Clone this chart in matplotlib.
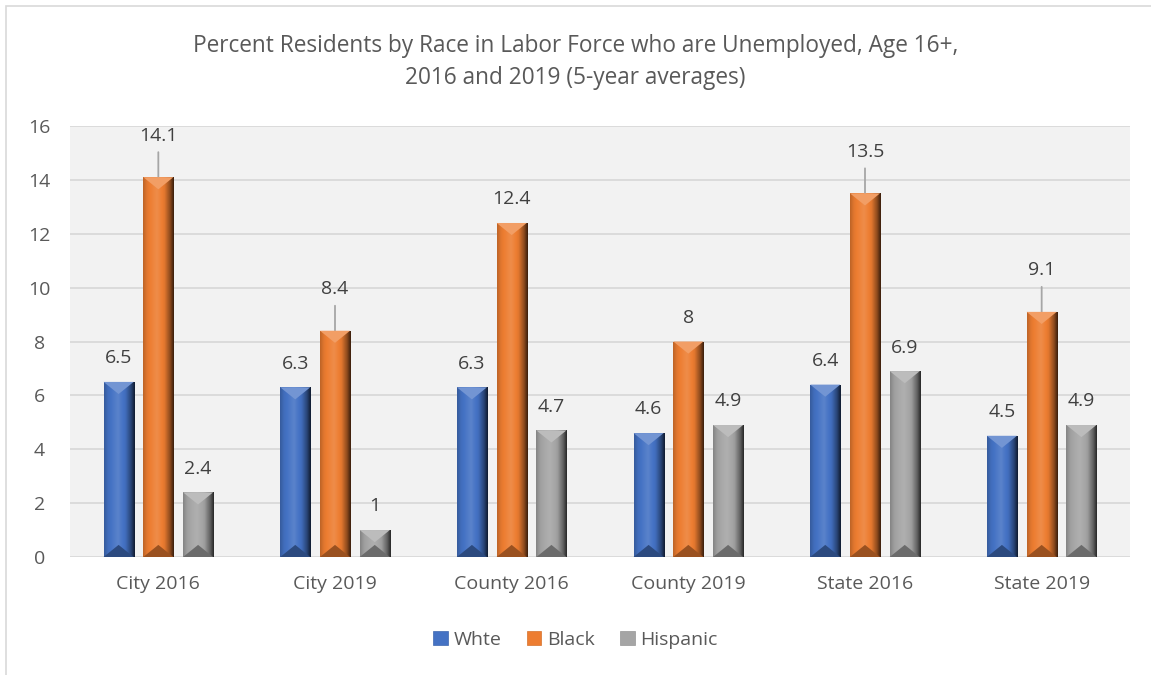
import numpy as np
import matplotlib.pyplot as plt
from matplotlib.patches import Polygon, Rectangle
from matplotlib.colors import to_rgb

# Dữ liệu
categories = ['City 2016', 'City 2019', 'County 2016', 'County 2019', 'State 2016', 'State 2019']
white = [6.5, 6.3, 6.3, 4.6, 6.4, 4.5]
black = [14.1, 8.4, 12.4, 8.0, 13.5, 9.1]
hispanic = [2.4, 1.0, 4.7, 4.9, 6.9, 4.9]
series_names = ['Whte', 'Black', 'Hispanic']
colors = ['#4472C4', '#ED7D31', '#A5A5A5']

# nhãn của cột Black có đường dẫn (leader line) hay không
black_leader = [True, True, False, False, True, True]

plt.rcParams['font.family'] = ['Open Sans', 'DejaVu Sans']
text_color = '#595959'
fs = 14

fig = plt.figure(figsize=(11.51, 6.75), dpi=100)
ax = fig.add_axes([70 / 1151, 118 / 675, 1060 / 1151, 431 / 675])
ax.set_facecolor('#F2F2F2')

# khung viền nhạt quanh biểu đồ
fig.patches.append(Rectangle((6 / 1151, -0.1), 1.2, 1.1 - 6 / 675, transform=fig.transFigure,
                             fill=False, edgecolor='#D9D9D9', linewidth=1.2))


def shade(c, f):
    r = np.array(to_rgb(c))
    if f >= 1:
        return tuple(r + (1 - r) * (f - 1))
    return tuple(r * f)


def bevel_bar(ax, patch, color):
    # tô gradient ngang và hai tam giác vát ở đầu/cuối cột
    x, w, h = patch.get_x(), patch.get_width(), patch.get_height()
    stops = [0.0, 0.12, 0.45, 0.7, 0.88, 1.0]
    facs = [0.8, 0.95, 1.12, 0.95, 0.6, 0.25]
    t = np.linspace(0, 1, 60)
    grad = np.array([[shade(color, np.interp(v, stops, facs)) for v in t]])
    im = ax.imshow(grad, extent=(x, x + w, 0, h), aspect='auto', zorder=3, interpolation='bilinear')
    im.set_clip_path(patch)
    d = min(0.45, h / 2)
    top = Polygon([(x, h), (x + w, h), (x + w / 2, h - d)], closed=True,
                  facecolor=shade(color, 1.25), edgecolor='none', zorder=4)
    bot = Polygon([(x, 0), (x + w, 0), (x + w / 2, d)], closed=True,
                  facecolor=shade(color, 0.65), edgecolor='none', zorder=4)
    ax.add_patch(top)
    ax.add_patch(bot)


x = np.arange(len(categories))
width = 0.17
step = 0.225
all_series = [white, black, hispanic]
handles = []
for i, (vals, name, col) in enumerate(zip(all_series, series_names, colors)):
    bars = ax.bar(x + (i - 1) * step, vals, width, color=col, label=name, zorder=2,
                  edgecolor=shade(col, 0.9), linewidth=0.5)
    handles.append(bars)
    for j, b in enumerate(bars):
        bevel_bar(ax, b, col)
        v = vals[j]
        txt = f'{v:g}'
        cx = b.get_x() + b.get_width() / 2
        if i == 1 and black_leader[j]:
            ax.annotate(txt, (cx, v), xytext=(0, 30), textcoords='offset points',
                        ha='center', va='center', fontsize=fs, color='#404040', zorder=6)
            ax.annotate('', (cx, v), xytext=(0, 18), textcoords='offset points',
                        arrowprops=dict(arrowstyle='-', color='#A6A6A6', lw=1.3, shrinkA=0, shrinkB=0))
        else:
            ax.annotate(txt, (cx, v), xytext=(0, 17), textcoords='offset points',
                        ha='center', va='center', fontsize=fs, color='#404040', zorder=6)

ax.set_xlim(-0.5, len(categories) - 0.5)
ax.set_ylim(0, 16)
ax.set_yticks(range(0, 17, 2))
ax.set_xticks(x)
ax.set_xticklabels(categories)
ax.yaxis.grid(True, color='#D9D9D9', linewidth=1.3, zorder=0)
ax.set_axisbelow(True)
for s in ax.spines.values():
    s.set_visible(False)
ax.tick_params(axis='both', length=0, labelsize=fs, colors=text_color)
ax.tick_params(axis='y', pad=22)
ax.tick_params(axis='x', pad=13)
for lbl in ax.get_yticklabels():
    lbl.set_horizontalalignment('center')

fig.text(0.5, 1 - 62 / 675, 'Percent Residents by Race in Labor Force who are Unemployed, Age 16+,\n'
         '2016 and 2019 (5-year averages)', ha='center', va='center', fontsize=16.3,
         color=text_color, linespacing=1.45)

fig.legend(handles=handles, labels=series_names, loc='center', bbox_to_anchor=(0.5, 1 - 640 / 675),
           ncol=3, frameon=False, fontsize=fs, handlelength=0.75, handleheight=0.75,
           handletextpad=0.3, columnspacing=1.3, labelcolor=text_color)

fig.savefig('out.png', dpi=100)
